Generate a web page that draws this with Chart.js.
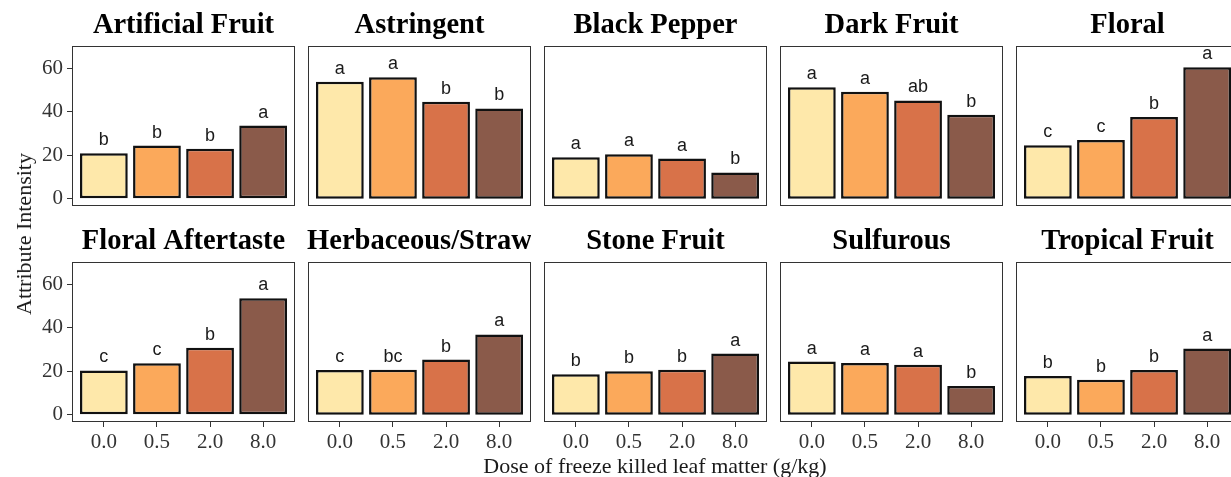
<!DOCTYPE html>
<html>
<head>
<meta charset="utf-8">
<script src="https://cdn.jsdelivr.net/npm/chart.js@4.4.1/dist/chart.umd.min.js"></script>
<style>
  html, body { margin: 0; padding: 0; background: #ffffff; }
  body { width: 1231px; height: 477px; position: relative; overflow: hidden; }
  canvas { position: absolute; }
  .axis-title { position: absolute; font-family: "Liberation Serif", "Times New Roman", serif; font-size: 22px; color: #1a1a1a; white-space: nowrap; line-height: 1; }
</style>
</head>
<body>
<div id="root"></div>
<div class="axis-title" id="ytitle" style="left:24px; top:234px; transform: translate(-50%,-50%) rotate(-90deg);">Attribute Intensity</div>
<div class="axis-title" id="xtitle" style="left:655px; top:466px; transform: translate(-50%,-50%);">Dose of freeze killed leaf matter (g/kg)</div>
<script>
// ---- data ----
const categories = ['0.0', '0.5', '2.0', '8.0'];
const attributes = ['Artificial Fruit', 'Astringent', 'Black Pepper', 'Dark Fruit', 'Floral',
                    'Floral Aftertaste', 'Herbaceous/Straw', 'Stone Fruit', 'Sulfurous', 'Tropical Fruit'];
const yTicks = [0, 20, 40, 60];

const artificialFruit   = [21.0, 24.5, 23.0, 33.7];
const astringent        = [53.9, 56.0, 44.7, 41.6];
const blackPepper       = [19.1, 20.5, 18.5, 12.1];
const darkFruit         = [51.3, 49.3, 45.3, 38.7];
const floral            = [24.6, 27.1, 37.6, 60.6];
const floralAftertaste  = [20.4, 23.7, 30.9, 53.7];
const herbaceousStraw   = [20.6, 20.7, 25.4, 37.0];
const stoneFruit        = [18.6, 20.0, 20.7, 28.2];
const sulfurous         = [24.5, 23.8, 23.0, 13.2];
const tropicalFruit     = [17.8, 16.1, 20.6, 30.5];

const lettersArtificialFruit  = ['b', 'b', 'b', 'a'];
const lettersAstringent       = ['a', 'a', 'b', 'b'];
const lettersBlackPepper      = ['a', 'a', 'a', 'b'];
const lettersDarkFruit        = ['a', 'a', 'ab', 'b'];
const lettersFloral           = ['c', 'c', 'b', 'a'];
const lettersFloralAftertaste = ['c', 'c', 'b', 'a'];
const lettersHerbaceousStraw  = ['c', 'bc', 'b', 'a'];
const lettersStoneFruit       = ['b', 'b', 'b', 'a'];
const lettersSulfurous        = ['a', 'a', 'a', 'b'];
const lettersTropicalFruit    = ['b', 'b', 'b', 'a'];

const seriesValues = [artificialFruit, astringent, blackPepper, darkFruit, floral,
                      floralAftertaste, herbaceousStraw, stoneFruit, sulfurous, tropicalFruit];
const seriesLetters = [lettersArtificialFruit, lettersAstringent, lettersBlackPepper, lettersDarkFruit, lettersFloral,
                       lettersFloralAftertaste, lettersHerbaceousStraw, lettersStoneFruit, lettersSulfurous, lettersTropicalFruit];

// ---- style / layout ----
const barColors = ['#FEE8AA', '#FBA95B', '#D87249', '#8A5A4A'];
const panelLefts = [72, 308, 544, 780, 1016];
const panelTops = [46, 262];
const panelW = 223, panelH = 160;
const padL = 70, padT = 46, padB = 50;

Chart.defaults.animation = false;

const panelPlugin = {
  id: 'panelDeco',
  afterDatasetsDraw(chart, args, opts) {
    const ctx = chart.ctx;
    const meta = chart.getDatasetMeta(0);
    ctx.save();
    ctx.fillStyle = '#1a1a1a';
    ctx.font = '18px "Liberation Sans", Arial, sans-serif';
    ctx.textAlign = 'center';
    ctx.textBaseline = 'alphabetic';
    meta.data.forEach((bar, i) => {
      ctx.fillText(opts.letters[i], bar.x, bar.y - 8);
    });
    ctx.restore();
  },
  afterDraw(chart, args, opts) {
    const ctx = chart.ctx;
    const a = chart.chartArea;
    ctx.save();
    ctx.strokeStyle = '#333333';
    ctx.lineWidth = 1;
    ctx.strokeRect(a.left + 0.5, a.top + 0.5, a.right - a.left - 1, a.bottom - a.top - 1);
    ctx.fillStyle = '#000000';
    ctx.font = 'bold 28.5px "Liberation Serif", "Times New Roman", serif';
    ctx.textAlign = 'center';
    ctx.textBaseline = 'alphabetic';
    ctx.fillText(opts.title, (a.left + a.right) / 2, a.top - 13);
    ctx.restore();
  }
};

const root = document.getElementById('root');
const tickFont = { family: '"Liberation Serif", "Times New Roman", serif', size: 21 };

attributes.forEach((name, idx) => {
  const row = Math.floor(idx / 5), col = idx % 5;
  const cv = document.createElement('canvas');
  const w = padL + panelW, h = padT + panelH + padB;
  cv.width = w; cv.height = h;
  cv.style.width = w + 'px'; cv.style.height = h + 'px';
  cv.style.left = (panelLefts[col] - padL) + 'px';
  cv.style.top = (panelTops[row] - padT) + 'px';
  root.appendChild(cv);

  const showY = col === 0;
  const showX = row === 1;
  const values = seriesValues[idx];

  new Chart(cv, {
    type: 'bar',
    data: {
      datasets: [{
        data: values.map((v, i) => ({ x: i + 1, y: v })),
        backgroundColor: barColors,
        borderColor: '#111111',
        borderWidth: 2.5,
        borderSkipped: false,
        barPercentage: 0.9,
        categoryPercentage: 1.0
      }]
    },
    options: {
      responsive: false,
      devicePixelRatio: 1,
      layout: { padding: 0 },
      plugins: {
        legend: { display: false },
        tooltip: { enabled: false },
        title: { display: false },
        panelDeco: { title: name, letters: seriesLetters[idx] }
      },
      scales: {
        x: {
          type: 'linear',
          position: 'bottom',
          min: 0.4, max: 4.6,
          offset: false,
          afterBuildTicks: (s) => { s.ticks = categories.map((c, i) => ({ value: i + 1 })); },
          afterFit: (s) => { s.height = padB; },
          ticks: {
            display: showX,
            callback: (v) => categories[Math.round(v) - 1] ?? '',
            font: tickFont,
            color: '#333333',
            padding: 3,
            maxRotation: 0, autoSkip: false
          },
          grid: { display: showX, drawOnChartArea: false, drawTicks: true, tickLength: 5, color: '#333333', offset: false },
          border: { display: false }
        },
        xTop: {
          type: 'linear',
          position: 'top',
          min: 0, max: 1,
          afterBuildTicks: (s) => { s.ticks = []; },
          afterFit: (s) => { s.height = padT; },
          ticks: { display: false },
          grid: { display: false },
          border: { display: false }
        },
        y: {
          type: 'linear',
          position: 'left',
          min: -3.35, max: 70.35,
          afterBuildTicks: (s) => { s.ticks = yTicks.map(v => ({ value: v })); },
          afterFit: (s) => { s.width = padL; },
          ticks: {
            display: showY,
            font: tickFont,
            color: '#333333',
            padding: 4
          },
          grid: { display: showY, drawOnChartArea: false, drawTicks: true, tickLength: 5, color: '#333333' },
          border: { display: false }
        }
      }
    },
    plugins: [panelPlugin]
  });
});
</script>
</body>
</html>
